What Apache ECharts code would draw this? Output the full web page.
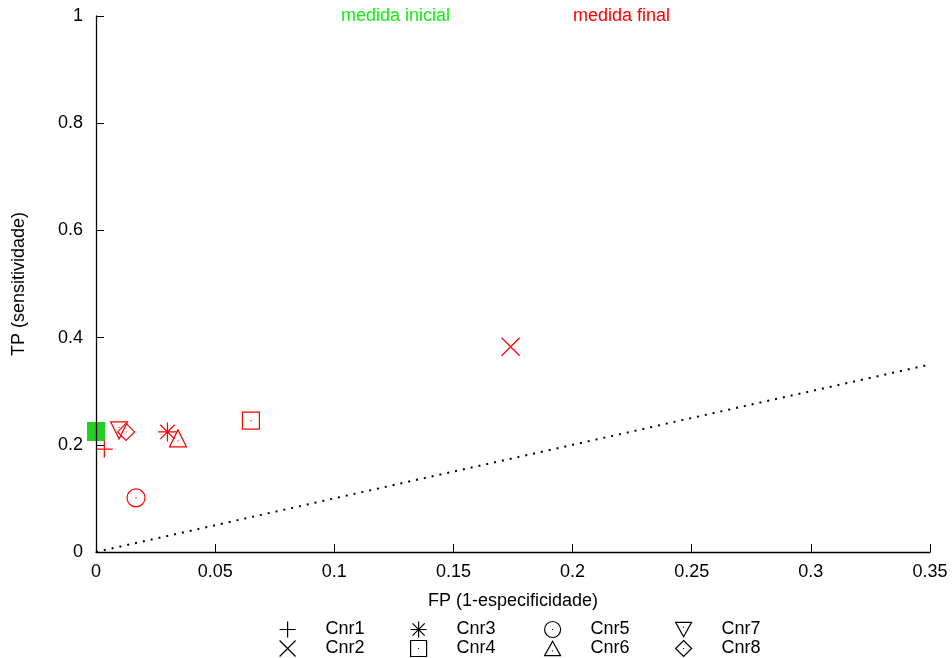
<!DOCTYPE html>
<html>
<head>
<meta charset="utf-8">
<script src="https://cdn.jsdelivr.net/npm/echarts@6/dist/echarts.min.js"></script>
<style>
  html, body { margin: 0; padding: 0; background: #fff; }
  #main { width: 952px; height: 658px; }
</style>
</head>
<body>
<div id="main"></div>
<script>
// data
const cnrNames = ["Cnr1", "Cnr2", "Cnr3", "Cnr4", "Cnr5", "Cnr6", "Cnr7", "Cnr8"];
const initialFP = [0, 0, 0, 0, 0, 0, 0, 0];
const initialTP = [0.225, 0.225, 0.225, 0.225, 0.225, 0.225, 0.225, 0.225];
const finalFP = [0.0035, 0.174, 0.030, 0.065, 0.0168, 0.0344, 0.0097, 0.0126];
const finalTP = [0.192, 0.383, 0.224, 0.245, 0.101, 0.212, 0.227, 0.224];
const xTicks = [0, 0.05, 0.1, 0.15, 0.2, 0.25, 0.3, 0.35];
const yTicks = [0, 0.2, 0.4, 0.6, 0.8, 1];
const diagonal = [[0, 0], [0.35, 0.35]];

const FONT = "'Liberation Sans', Arial, sans-serif";

// gnuplot-like point types: plus, cross, star, box, circle, triangle, inv. triangle, diamond
const symbols = [
  "path://M0,5L10,5M5,0L5,10",
  "path://M0,0L10,10M10,0L0,10",
  "path://M0,5L10,5M5,0L5,10M1.2,1.2L8.8,8.8M8.8,1.2L1.2,8.8",
  "path://M0,0L10,0L10,10L0,10ZM4.7,5L5.3,5",
  "path://M0,5A5,5 0 1 1 10,5A5,5 0 1 1 0,5ZM4.7,5L5.3,5",
  "path://M5,0L10,9L0,9ZM4.7,6L5.3,6",
  "path://M0,0L10,0L5,9ZM4.7,3L5.3,3",
  "path://M5,0L10,5L5,10L0,5ZM4.7,5L5.3,5",
];
const symbolSizes = [17, 18, 19, 17, 18, 17, 17, 17];

let chart = echarts.init(document.getElementById("main"));

let series = [];
// medida inicial (green, all on top of each other at FP = 0)
series.push({
  name: "inicial",
  type: "scatter",
  symbol: "rect",
  symbolSize: 18,
  itemStyle: { color: "#22d022", opacity: 1 },
  z: 2,
  data: initialFP.map((x, i) => [x, initialTP[i]]),
});
// medida final (red)
cnrNames.forEach((name, i) => {
  series.push({
    name: name,
    type: "scatter",
    symbol: symbols[i],
    symbolSize: symbolSizes[i],
    itemStyle: {
      color: "transparent",
      borderColor: "#ff0000",
      borderWidth: 1.2,
      opacity: 1,
    },
    z: 3,
    data: [[finalFP[i], finalTP[i]]],
  });
});
series.push({
  name: "diag",
  type: "line",
  symbol: "none",
  silent: true,
  lineStyle: { color: "#000", width: 2, type: [2, 6] },
  data: diagonal,
});

// legend: 4 columns of 2 rows, column-major like gnuplot
const legendLefts = [279, 410, 544, 675];
let legends = legendLefts.map((left, c) => ({
  left: left,
  top: 620,
  orient: "vertical",
  padding: 0,
  itemWidth: 16,
  itemHeight: 16,
  itemGap: 0,
  selectedMode: false,
  itemStyle: { color: "transparent", borderColor: "#000", borderWidth: 1.2 },
  textStyle: {
    fontFamily: FONT,
    fontSize: 18,
    color: "#000",
    lineHeight: 19,
    padding: [0, 0, 0, 25],
  },
  data: [0, 1].map((r) => ({
    name: cnrNames[c * 2 + r],
    icon: symbols[c * 2 + r],
  })),
}));

let option = {
  animation: false,
  backgroundColor: "#fff",
  grid: { left: 96, right: 22, top: 16, bottom: 106 },
  legend: legends,
  graphic: [
    {
      type: "text",
      left: 341,
      top: 7,
      style: { text: "medida inicial", fill: "#11ee11", font: "18px " + FONT },
    },
    {
      type: "text",
      left: 573,
      top: 7,
      style: { text: "medida final", fill: "#ff0000", font: "18px " + FONT },
    },
  ],
  xAxis: {
    type: "value",
    min: xTicks[0],
    max: xTicks[xTicks.length - 1],
    interval: 0.05,
    z: 5,
    name: "FP (1-especificidade)",
    nameLocation: "middle",
    nameGap: 40,
    nameTextStyle: { fontFamily: FONT, fontSize: 18, color: "#000" },
    axisLine: { lineStyle: { color: "#000", width: 1.3 } },
    axisTick: { inside: true, length: 8, lineStyle: { color: "#000" } },
    axisLabel: { fontFamily: FONT, fontSize: 18, color: "#000", margin: 11 },
    splitLine: { show: false },
  },
  yAxis: {
    type: "value",
    min: yTicks[0],
    max: yTicks[yTicks.length - 1],
    interval: 0.2,
    z: 5,
    name: "TP (sensitividade)",
    nameLocation: "middle",
    nameGap: 68,
    nameTextStyle: { fontFamily: FONT, fontSize: 18, color: "#000" },
    axisLine: { lineStyle: { color: "#000", width: 1.3 } },
    axisTick: { inside: true, length: 8, lineStyle: { color: "#000" } },
    axisLabel: { fontFamily: FONT, fontSize: 18, color: "#000", margin: 13 },
    splitLine: { show: false },
  },
  series: series,
};

chart.setOption(option);
</script>
</body>
</html>
